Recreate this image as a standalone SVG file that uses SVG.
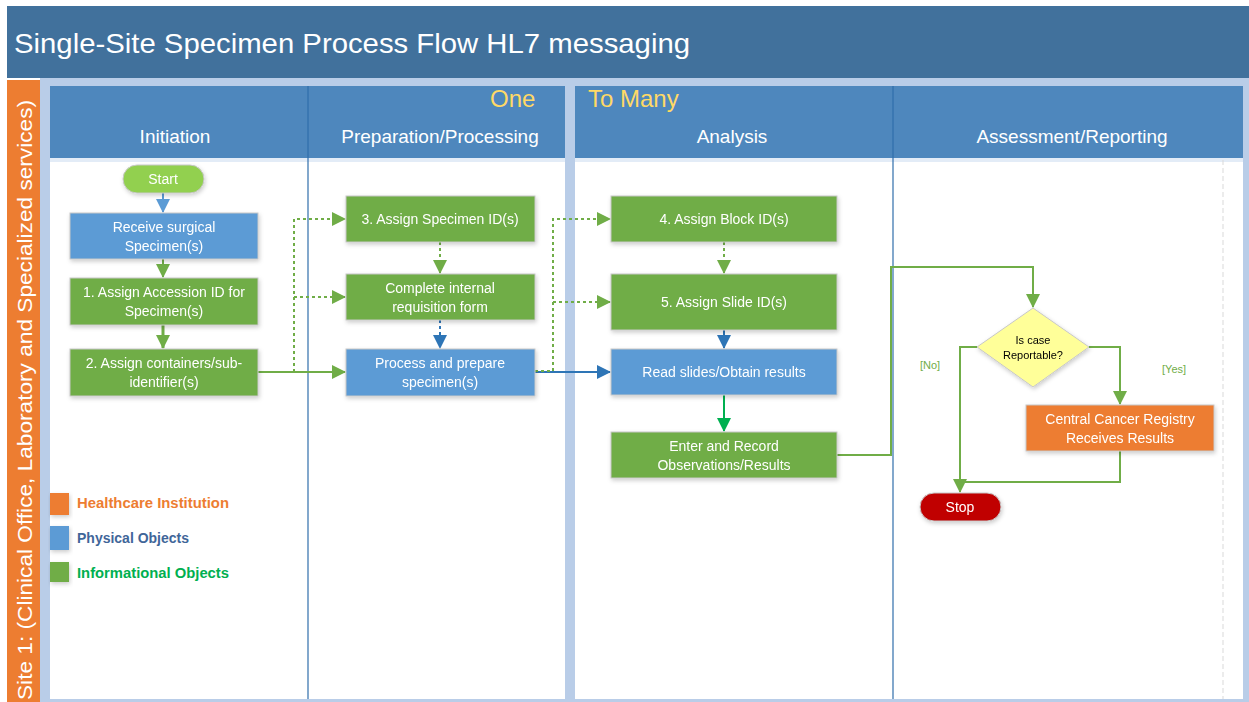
<svg xmlns="http://www.w3.org/2000/svg" width="1249" height="702" viewBox="0 0 1249 702">
<style>
text{font-family:"Liberation Sans",Arial,sans-serif}
.nt{fill:#fff;font-size:14px;text-anchor:middle}
.hd{fill:#fff;font-size:19px;text-anchor:middle}
.g{fill:#70AD47;stroke:#c8c8c8;stroke-width:1}
.b{fill:#5B9BD5;stroke:#c8c8c8;stroke-width:1}
.o{fill:#ED7D31;stroke:#c8c8c8;stroke-width:1}
.cg{fill:none;stroke:#70AD47;stroke-width:2}
.cd{fill:none;stroke:#70AD47;stroke-width:2;stroke-dasharray:3 3}
.cb{fill:none;stroke:#2E75B6;stroke-width:2}
.cbd{fill:none;stroke:#2E75B6;stroke-width:2;stroke-dasharray:3 3}
.lane{stroke:#2F6EAB;stroke-width:1.2}
.lg{font-size:14px;font-weight:bold}
</style>
<defs>
<filter id="sh" x="-10%" y="-10%" width="130%" height="140%"><feDropShadow dx="1" dy="2" stdDeviation="2" flood-color="#000" flood-opacity="0.2"/></filter>
<marker id="ag" markerUnits="userSpaceOnUse" markerWidth="14" markerHeight="14" refX="13" refY="7" orient="auto"><path d="M0,0 L14,7 L0,14 Z" fill="#70AD47"/></marker>
<marker id="ab" markerUnits="userSpaceOnUse" markerWidth="14" markerHeight="14" refX="13" refY="7" orient="auto"><path d="M0,0 L14,7 L0,14 Z" fill="#2E75B6"/></marker>
<marker id="abs" markerUnits="userSpaceOnUse" markerWidth="14" markerHeight="14" refX="13" refY="7" orient="auto"><path d="M0,0 L14,7 L0,14 Z" fill="#5B9BD5"/></marker>
<marker id="agb" markerUnits="userSpaceOnUse" markerWidth="14" markerHeight="14" refX="13" refY="7" orient="auto"><path d="M0,0 L14,7 L0,14 Z" fill="#00B050"/></marker>
</defs>

<g id="frame">
<rect x="0" y="0" width="1249" height="702" fill="#fff"/>
<rect x="7" y="6" width="1242" height="72" fill="#41719C"/>
<text x="14" y="53" fill="#fff" font-size="28" textLength="676" lengthAdjust="spacingAndGlyphs">Single-Site Specimen Process Flow HL7 messaging</text>
<rect x="40" y="78" width="1209" height="624" fill="#B9CDE8"/>
<rect x="7" y="80" width="33" height="622" fill="#ED7D31"/>
<text transform="translate(32,700) rotate(-90)" fill="#fff" font-size="20" textLength="600" lengthAdjust="spacingAndGlyphs">Site 1: (Clinical Office, Laboratory and Specialized services)</text>
<rect x="50" y="86" width="515" height="613" fill="#fff"/>
<rect x="575" y="86" width="668" height="613" fill="#fff"/>
<rect x="50" y="86" width="515" height="72" fill="#4E87BD"/>
<rect x="575" y="86" width="668" height="72" fill="#4E87BD"/>
<rect x="50" y="158" width="515" height="4" fill="#E3ECF7"/>
<rect x="575" y="158" width="668" height="4" fill="#E3ECF7"/>
<line class="lane" x1="308" y1="86" x2="308" y2="699"/>
<line class="lane" x1="893" y1="86" x2="893" y2="699"/>
<line x1="1223" y1="160" x2="1223" y2="699" stroke="#d9d9d9" stroke-width="1" stroke-dasharray="5 3"/>
<text class="hd" x="175" y="143">Initiation</text>
<text class="hd" x="440" y="143">Preparation/Processing</text>
<text class="hd" x="732" y="143">Analysis</text>
<text class="hd" x="1072" y="143">Assessment/Reporting</text>
<text x="490" y="107" fill="#FFD966" font-size="24">One</text>
<text x="588" y="107" fill="#FFD966" font-size="24">To Many</text>
</g>

<g id="connectors">
<line x1="163" y1="193" x2="163" y2="212" stroke="#5B9BD5" stroke-width="2" marker-end="url(#abs)"/>
<line class="cg" x1="163" y1="259" x2="163" y2="277" marker-end="url(#ag)"/>
<line x1="163" y1="325" x2="163" y2="348" stroke="#70AD47" stroke-width="3" marker-end="url(#ag)"/>
<polyline class="cd" points="294,372 294,219 345,219" marker-end="url(#ag)"/>
<line class="cd" x1="294" y1="297" x2="345" y2="297" marker-end="url(#ag)"/>
<line class="cg" x1="258" y1="372" x2="345" y2="372" marker-end="url(#ag)"/>
<line class="cd" x1="440" y1="242" x2="440" y2="273" marker-end="url(#ag)"/>
<line class="cbd" x1="440" y1="320" x2="440" y2="348" marker-end="url(#ab)"/>
<line class="cb" x1="535" y1="372" x2="610" y2="372" marker-end="url(#ab)"/>
<polyline class="cd" points="535,371 553,371 553,219 610,219" marker-end="url(#ag)"/>
<line class="cd" x1="553" y1="302" x2="610" y2="302" marker-end="url(#ag)"/>
<line class="cd" x1="724" y1="242" x2="724" y2="273" marker-end="url(#ag)"/>
<line class="cb" x1="724" y1="330" x2="724" y2="348" marker-end="url(#ab)"/>
<line x1="724" y1="395" x2="724" y2="431" stroke="#00B050" stroke-width="2" marker-end="url(#agb)"/>
<polyline class="cg" points="837,455 891,455 891,267 1033,267 1033,307" marker-end="url(#ag)"/>
<polyline class="cg" points="977,347 960,347 960,492" marker-end="url(#ag)"/>
<polyline class="cg" points="1089,347 1120,347 1120,404" marker-end="url(#ag)"/>
<polyline class="cg" points="1120,451 1120,482 960,482"/>
<text x="920" y="369" fill="#70AD47" font-size="11">[No]</text>
<text x="1162" y="373" fill="#70AD47" font-size="11">[Yes]</text>
</g>

<g id="start" filter="url(#sh)">
<rect x="123" y="165" width="81" height="28" rx="14" fill="#92D050" stroke="#c8c8c8"/>
<text class="nt" x="163" y="184">Start</text>
</g>
<g id="receive" filter="url(#sh)">
<rect class="b" x="70" y="213" width="188" height="46"/>
<text class="nt" x="164" y="231.5">Receive surgical</text>
<text class="nt" x="164" y="250.5">Specimen(s)</text>
</g>
<g id="n1" filter="url(#sh)">
<rect class="g" x="70" y="278" width="188" height="47"/>
<text class="nt" x="164" y="297">1. Assign Accession ID for</text>
<text class="nt" x="164" y="316">Specimen(s)</text>
</g>
<g id="n2" filter="url(#sh)">
<rect class="g" x="70" y="349" width="188" height="47"/>
<text class="nt" x="164" y="368">2. Assign containers/sub-</text>
<text class="nt" x="164" y="387">identifier(s)</text>
</g>
<g id="n3" filter="url(#sh)">
<rect class="g" x="346" y="196" width="189" height="46"/>
<text class="nt" x="440" y="224">3. Assign Specimen ID(s)</text>
</g>
<g id="requisition" filter="url(#sh)">
<rect class="g" x="346" y="274" width="189" height="46"/>
<text class="nt" x="440" y="292.5">Complete internal</text>
<text class="nt" x="440" y="311.5">requisition form</text>
</g>
<g id="process" filter="url(#sh)">
<rect class="b" x="346" y="349" width="189" height="47"/>
<text class="nt" x="440" y="368">Process and prepare</text>
<text class="nt" x="440" y="387">specimen(s)</text>
</g>
<g id="n4" filter="url(#sh)">
<rect class="g" x="611" y="196" width="226" height="46"/>
<text class="nt" x="724" y="224">4. Assign Block ID(s)</text>
</g>
<g id="n5" filter="url(#sh)">
<rect class="g" x="611" y="274" width="226" height="56"/>
<text class="nt" x="724" y="307">5. Assign Slide ID(s)</text>
</g>
<g id="read" filter="url(#sh)">
<rect class="b" x="611" y="349" width="226" height="46"/>
<text class="nt" x="724" y="377">Read slides/Obtain results</text>
</g>
<g id="record" filter="url(#sh)">
<rect class="g" x="611" y="432" width="226" height="46"/>
<text class="nt" x="724" y="450.5">Enter and Record</text>
<text class="nt" x="724" y="469.5">Observations/Results</text>
</g>
<g id="decision" filter="url(#sh)">
<polygon points="1033,308 1089,347 1033,387 977,347" fill="#FFFF99" stroke="#c8c8c8"/>
<text x="1033" y="344" font-size="11" text-anchor="middle" fill="#000">Is case</text>
<text x="1033" y="359" font-size="11" text-anchor="middle" fill="#000">Reportable?</text>
</g>
<g id="ccr" filter="url(#sh)">
<rect class="o" x="1026" y="405" width="188" height="46"/>
<text class="nt" x="1120" y="423.5">Central Cancer Registry</text>
<text class="nt" x="1120" y="442.5">Receives Results</text>
</g>
<g id="stop" filter="url(#sh)">
<rect x="920" y="493" width="81" height="28" rx="14" fill="#C00000" stroke="#c8c8c8"/>
<text class="nt" x="960" y="512">Stop</text>
</g>

<g id="legend">
<rect x="50" y="493" width="19" height="22" fill="#ED7D31" filter="url(#sh)"/>
<rect x="50" y="526" width="19" height="24" fill="#5B9BD5" filter="url(#sh)"/>
<rect x="50" y="562" width="19" height="20" fill="#70AD47" filter="url(#sh)"/>
<text class="lg" x="77" y="508" fill="#ED7D31" textLength="152" lengthAdjust="spacingAndGlyphs">Healthcare Institution</text>
<text class="lg" x="77" y="543" fill="#3F6699" textLength="112" lengthAdjust="spacingAndGlyphs">Physical Objects</text>
<text class="lg" x="77" y="578" fill="#00B050" textLength="152" lengthAdjust="spacingAndGlyphs">Informational Objects</text>
</g>
</svg>
